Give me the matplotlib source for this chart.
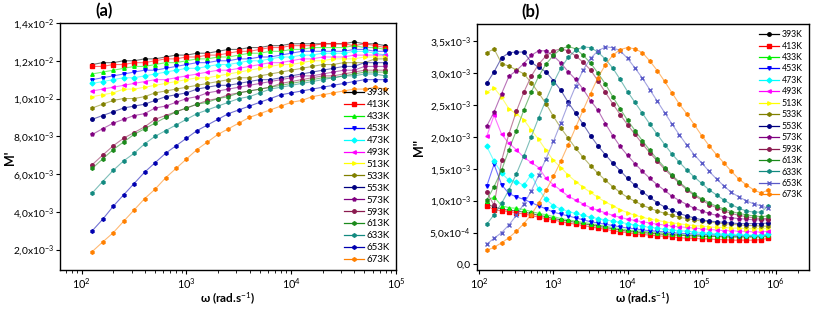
import numpy as np
import matplotlib
matplotlib.use("Agg")
import matplotlib.pyplot as plt

plt.rcParams["font.family"] = ["Lato", "DejaVu Sans"]
plt.rcParams["mathtext.fontset"] = "custom"
plt.rcParams["mathtext.rm"] = "Lato"
plt.rcParams["mathtext.bf"] = "Lato:bold"
plt.rcParams["mathtext.it"] = "Lato:italic"

# frequencies (rad/s), 10 points per decade
freq = [126, 158, 200, 251, 316, 398, 501, 631, 794, 1000,
        1259, 1585, 1995, 2512, 3162, 3981, 5012, 6310, 7943, 10000,
        12589, 15849, 19953, 25119, 31623, 39811, 50119, 63096, 79433, 100000,
        125893, 158489, 199526, 251189, 316228, 398107, 501187, 630957, 794328]

temps = ["393K", "413K", "433K", "453K", "473K", "493K", "513K", "533K",
         "553K", "573K", "593K", "613K", "633K", "653K", "673K"]

# M' (x1e-3), panel (a), 29 frequencies
a_393 = [11.8, 11.9, 11.9, 12.0, 12.0, 12.1, 12.1, 12.2, 12.3, 12.3, 12.4, 12.4, 12.5, 12.6, 12.6, 12.7, 12.7, 12.8, 12.8, 12.9, 12.9, 12.9, 12.9, 12.9, 12.9, 13.0, 12.9, 12.9, 12.8]
a_413 = [11.7, 11.7, 11.8, 11.8, 11.9, 11.9, 12.0, 12.1, 12.1, 12.2, 12.2, 12.3, 12.3, 12.4, 12.5, 12.5, 12.6, 12.7, 12.7, 12.8, 12.8, 12.8, 12.9, 12.9, 12.9, 12.8, 12.9, 12.8, 12.7]
a_433 = [11.3, 11.4, 11.5, 11.6, 11.7, 11.7, 11.8, 11.9, 11.9, 12.0, 12.1, 12.1, 12.2, 12.2, 12.3, 12.4, 12.4, 12.5, 12.5, 12.6, 12.6, 12.7, 12.7, 12.7, 12.7, 12.8, 12.7, 12.7, 12.6]
a_453 = [11.0, 11.1, 11.2, 11.3, 11.4, 11.5, 11.5, 11.6, 11.7, 11.8, 11.9, 11.9, 12.0, 12.0, 12.1, 12.1, 12.2, 12.2, 12.3, 12.4, 12.5, 12.5, 12.5, 12.5, 12.5, 12.6, 12.6, 12.5, 12.5]
a_473 = [10.8, 10.9, 11.0, 11.1, 11.1, 11.2, 11.3, 11.4, 11.5, 11.6, 11.6, 11.7, 11.8, 11.8, 11.9, 12.0, 12.0, 12.1, 12.2, 12.2, 12.3, 12.3, 12.4, 12.4, 12.4, 12.5, 12.5, 12.4, 12.3]
a_493 = [10.4, 10.5, 10.6, 10.7, 10.8, 10.9, 11.0, 11.0, 11.1, 11.2, 11.3, 11.4, 11.5, 11.5, 11.6, 11.7, 11.8, 11.9, 11.9, 12.0, 12.1, 12.1, 12.2, 12.2, 12.2, 12.3, 12.3, 12.3, 12.3]
a_513 = [10.1, 10.2, 10.3, 10.5, 10.5, 10.6, 10.7, 10.8, 10.9, 11.0, 11.1, 11.1, 11.2, 11.3, 11.4, 11.5, 11.6, 11.7, 11.8, 11.8, 11.9, 12.0, 12.0, 12.1, 12.1, 12.1, 12.2, 12.2, 12.2]
a_533 = [9.5, 9.7, 9.9, 10.0, 10.0, 10.1, 10.3, 10.4, 10.5, 10.6, 10.7, 10.8, 10.9, 11.0, 11.1, 11.1, 11.2, 11.3, 11.4, 11.5, 11.6, 11.7, 11.8, 11.8, 11.9, 11.9, 11.9, 12.1, 12.1]
a_553 = [8.9, 9.1, 9.3, 9.5, 9.6, 9.7, 9.9, 10.1, 10.2, 10.3, 10.5, 10.6, 10.7, 10.7, 10.8, 10.9, 11.0, 11.0, 11.1, 11.2, 11.3, 11.4, 11.5, 11.6, 11.7, 11.7, 11.9, 11.9, 11.9]
a_573 = [8.1, 8.4, 8.7, 8.9, 9.1, 9.2, 9.5, 9.6, 9.8, 10.0, 10.1, 10.3, 10.4, 10.5, 10.6, 10.7, 10.8, 10.9, 11.0, 11.1, 11.2, 11.2, 11.3, 11.4, 11.5, 11.5, 11.7, 11.7, 11.7]
a_593 = [6.5, 7.0, 7.5, 7.9, 8.2, 8.5, 8.9, 9.1, 9.3, 9.5, 9.7, 9.9, 10.0, 10.2, 10.3, 10.4, 10.5, 10.6, 10.8, 10.9, 11.0, 11.1, 11.2, 11.2, 11.3, 11.4, 11.5, 11.5, 11.5]
a_613 = [6.3, 6.8, 7.3, 7.7, 8.1, 8.4, 8.7, 9.0, 9.3, 9.5, 9.7, 9.8, 10.0, 10.1, 10.3, 10.4, 10.5, 10.6, 10.7, 10.8, 10.9, 11.0, 11.1, 11.1, 11.2, 11.3, 11.4, 11.4, 11.4]
a_633 = [5.0, 5.6, 6.2, 6.7, 7.1, 7.6, 8.0, 8.3, 8.6, 8.9, 9.2, 9.4, 9.6, 9.8, 10.0, 10.1, 10.3, 10.5, 10.6, 10.7, 10.8, 10.9, 11.0, 11.1, 11.2, 11.2, 11.3, 11.3, 11.2]
a_653 = [3.0, 3.6, 4.3, 4.9, 5.5, 6.1, 6.6, 7.1, 7.5, 7.9, 8.3, 8.6, 8.9, 9.2, 9.4, 9.6, 9.8, 10.0, 10.2, 10.3, 10.4, 10.5, 10.6, 10.7, 10.8, 10.9, 11.0, 11.0, 11.0]
a_673 = [1.9, 2.4, 2.9, 3.5, 4.1, 4.7, 5.2, 5.8, 6.3, 6.8, 7.3, 7.7, 8.1, 8.4, 8.7, 9.0, 9.2, 9.4, 9.6, 9.8, 9.9, 10.1, 10.2, 10.3, 10.4, 10.5, 10.5, 10.6, 10.5]

# M'' (x1e-3), panel (b), 39 frequencies
b_393 = [0.95, 0.90, 0.87, 0.85, 0.84, 0.82, 0.80, 0.77, 0.75, 0.72, 0.70, 0.68, 0.66, 0.64, 0.62, 0.60, 0.58, 0.56, 0.54, 0.52, 0.51, 0.50, 0.49, 0.48, 0.47, 0.46, 0.46, 0.45, 0.45, 0.44, 0.44, 0.44, 0.43, 0.43, 0.43, 0.43, 0.43, 0.43, 0.44]
b_413 = [0.92, 0.86, 0.84, 0.83, 0.81, 0.79, 0.77, 0.74, 0.72, 0.70, 0.67, 0.65, 0.63, 0.61, 0.59, 0.57, 0.55, 0.53, 0.51, 0.50, 0.48, 0.47, 0.46, 0.45, 0.44, 0.43, 0.42, 0.41, 0.41, 0.40, 0.40, 0.39, 0.39, 0.38, 0.38, 0.38, 0.38, 0.39, 0.41]
b_433 = [1.00, 1.06, 0.92, 0.89, 0.88, 0.86, 0.83, 0.80, 0.78, 0.75, 0.72, 0.70, 0.68, 0.66, 0.64, 0.62, 0.60, 0.58, 0.56, 0.54, 0.53, 0.52, 0.51, 0.50, 0.49, 0.48, 0.47, 0.46, 0.46, 0.45, 0.45, 0.44, 0.44, 0.44, 0.44, 0.44, 0.44, 0.44, 0.46]
b_453 = [1.23, 1.57, 1.25, 1.11, 1.06, 1.02, 0.97, 0.92, 0.87, 0.82, 0.79, 0.76, 0.73, 0.70, 0.67, 0.65, 0.63, 0.61, 0.59, 0.57, 0.56, 0.54, 0.53, 0.52, 0.51, 0.50, 0.49, 0.48, 0.48, 0.47, 0.47, 0.46, 0.46, 0.45, 0.45, 0.45, 0.45, 0.45, 0.47]
b_473 = [1.85, 1.62, 1.43, 1.32, 1.30, 1.24, 1.41, 1.18, 1.02, 0.92, 0.87, 0.83, 0.80, 0.77, 0.74, 0.72, 0.70, 0.68, 0.66, 0.64, 0.62, 0.60, 0.58, 0.57, 0.55, 0.54, 0.53, 0.52, 0.51, 0.50, 0.49, 0.48, 0.48, 0.47, 0.47, 0.46, 0.46, 0.46, 0.48]
b_493 = [2.01, 2.34, 2.04, 1.90, 1.80, 1.68, 1.60, 1.52, 1.35, 1.25, 1.16, 1.07, 1.01, 0.95, 0.89, 0.85, 0.81, 0.77, 0.74, 0.71, 0.69, 0.67, 0.65, 0.63, 0.62, 0.60, 0.59, 0.58, 0.57, 0.56, 0.55, 0.54, 0.53, 0.53, 0.52, 0.52, 0.51, 0.51, 0.52]
b_513 = [2.70, 2.77, 2.62, 2.44, 2.36, 2.27, 2.11, 1.96, 1.79, 1.63, 1.52, 1.40, 1.30, 1.21, 1.13, 1.05, 0.98, 0.92, 0.86, 0.81, 0.77, 0.74, 0.71, 0.69, 0.67, 0.65, 0.64, 0.62, 0.61, 0.60, 0.59, 0.58, 0.58, 0.57, 0.57, 0.56, 0.56, 0.56, 0.57]
b_533 = [3.32, 3.38, 3.15, 3.11, 3.05, 2.99, 2.85, 2.69, 2.52, 2.32, 2.14, 1.98, 1.82, 1.68, 1.55, 1.43, 1.32, 1.22, 1.13, 1.05, 0.99, 0.93, 0.88, 0.84, 0.80, 0.77, 0.74, 0.72, 0.70, 0.68, 0.67, 0.65, 0.64, 0.63, 0.62, 0.61, 0.61, 0.60, 0.60]
b_553 = [2.84, 3.02, 3.24, 3.32, 3.33, 3.33, 3.17, 3.09, 3.02, 2.88, 2.73, 2.54, 2.37, 2.20, 2.02, 1.86, 1.72, 1.59, 1.47, 1.35, 1.24, 1.14, 1.05, 0.97, 0.90, 0.85, 0.80, 0.76, 0.73, 0.70, 0.68, 0.67, 0.66, 0.65, 0.64, 0.64, 0.64, 0.64, 0.65]
b_573 = [2.17, 2.39, 2.68, 2.95, 3.04, 3.15, 3.28, 3.35, 3.35, 3.27, 3.16, 3.02, 2.90, 2.75, 2.57, 2.42, 2.21, 2.02, 1.85, 1.71, 1.58, 1.46, 1.35, 1.25, 1.16, 1.07, 1.00, 0.94, 0.88, 0.84, 0.80, 0.77, 0.75, 0.73, 0.72, 0.71, 0.70, 0.70, 0.70]
b_593 = [1.13, 0.93, 1.63, 2.05, 2.40, 2.70, 2.95, 3.14, 3.27, 3.35, 3.38, 3.35, 3.27, 3.17, 3.05, 2.88, 2.70, 2.52, 2.35, 2.19, 2.04, 1.89, 1.75, 1.62, 1.49, 1.38, 1.27, 1.17, 1.08, 1.01, 0.94, 0.89, 0.84, 0.80, 0.77, 0.75, 0.73, 0.72, 0.72]
b_613 = [1.01, 1.22, 1.48, 1.80, 2.10, 2.42, 2.70, 2.95, 3.14, 3.28, 3.38, 3.42, 3.38, 3.28, 3.16, 3.00, 2.83, 2.63, 2.44, 2.26, 2.10, 1.94, 1.79, 1.65, 1.52, 1.40, 1.29, 1.19, 1.10, 1.03, 0.97, 0.91, 0.87, 0.83, 0.80, 0.78, 0.76, 0.75, 0.76]
b_633 = [0.63, 0.78, 0.96, 1.17, 1.42, 1.70, 2.00, 2.30, 2.58, 2.85, 3.08, 3.25, 3.36, 3.41, 3.40, 3.33, 3.22, 3.08, 2.90, 2.71, 2.54, 2.37, 2.20, 2.04, 1.88, 1.73, 1.60, 1.48, 1.37, 1.27, 1.17, 1.09, 1.01, 0.94, 0.88, 0.84, 0.82, 0.82, 0.92]
b_653 = [0.32, 0.41, 0.50, 0.62, 0.77, 0.95, 1.15, 1.40, 1.66, 1.93, 2.22, 2.52, 2.80, 3.05, 3.23, 3.35, 3.41, 3.40, 3.35, 3.23, 3.08, 2.92, 2.74, 2.56, 2.38, 2.20, 2.03, 1.87, 1.72, 1.59, 1.46, 1.34, 1.23, 1.13, 1.06, 1.00, 0.95, 0.92, 0.88]
b_673 = [0.22, 0.27, 0.34, 0.42, 0.52, 0.64, 0.78, 0.96, 1.16, 1.38, 1.62, 1.88, 2.15, 2.42, 2.68, 2.93, 3.13, 3.28, 3.37, 3.40, 3.38, 3.32, 3.19, 3.04, 2.87, 2.69, 2.51, 2.36, 2.19, 2.02, 1.86, 1.72, 1.59, 1.46, 1.34, 1.25, 1.17, 1.12, 1.17]

a_series = [a_393, a_413, a_433, a_453, a_473, a_493, a_513, a_533,
            a_553, a_573, a_593, a_613, a_633, a_653, a_673]
b_series = [b_393, b_413, b_433, b_453, b_473, b_493, b_513, b_533,
            b_553, b_573, b_593, b_613, b_633, b_653, b_673]

colors = ["#000000", "#ff0000", "#00f000", "#0000ff", "#00ffff", "#ff00ff",
          "#ffff00", "#808000", "#000080", "#800080", "#8b1a4f", "#1b8a1b",
          "#138a80", "#0000b0", "#ff8000"]
markers_a = ["o", "s", "^", "v", "D", "<", ">", "h", "o", "p", "o", "h", "h", "h", "h"]
markers_b = ["o", "s", "^", "v", "D", "<", ">", "h", "o", "p", "o", "h", "h", "x", "h"]

fig = plt.figure(figsize=(8.13, 3.09), dpi=100)
ax1 = fig.add_axes([0.0738, 0.126, 0.4132, 0.7996])
ax2 = fig.add_axes([0.5867, 0.126, 0.4084, 0.7963])

# panel (a)
fa = freq[:29]
for vals, lab, c, m in zip(a_series, temps, colors, markers_a):
    ax1.plot(fa, vals, color=c, lw=0.8, alpha=0.55)
    ax1.plot(fa, vals, ls="none", marker=m, ms=2.5, color=c, mec=c)
    ax1.plot([], [], color=c, lw=0.9, marker=m, ms=2.5, label=lab)

ax1.set_xscale("log")
ax1.set_xlim(62, 1e5)
ax1.set_ylim(0.92, 14.0)
ax1.set_yticks([2, 4, 6, 8, 10, 12, 14])
ax1.set_yticklabels(["2,0x10$^{-3}$", "4,0x10$^{-3}$", "6,0x10$^{-3}$", "8,0x10$^{-3}$",
                     "1,0x10$^{-2}$", "1,2x10$^{-2}$", "1,4x10$^{-2}$"])
ax1.set_ylabel("M'", fontsize=9, fontweight="bold")
ax1.set_xlabel("ω (rad.s$^{-1}$)", fontsize=8.5, fontweight="bold")
ax1.yaxis.set_label_coords(-0.13, 0.455)
ax1.xaxis.set_label_coords(0.5, -0.085)
ax1.text(0.13, 1.015, "(a)", transform=ax1.transAxes, fontsize=12,
         fontweight="bold", ha="center", va="bottom")
ax1.legend(loc="lower right", fontsize=7, frameon=False, handlelength=2.0,
           labelspacing=0.3, handletextpad=0.3, borderaxespad=0.2)

# panel (b)
for vals, lab, c, m in zip(b_series, temps, colors, markers_b):
    if lab == "653K":
        c = "#5a5ac8"
    ax2.plot(freq, vals, color=c, lw=0.8, alpha=0.55)
    ax2.plot(freq, vals, ls="none", marker=m, ms=2.5, color=c, mec=c)
    ax2.plot([], [], color=c, lw=0.9, marker=m, ms=2.5, label=lab)

ax2.set_xscale("log")
ax2.set_xlim(93, 2.8e6)
ax2.set_ylim(-0.088, 3.77)
ax2.set_yticks([0, 0.5, 1.0, 1.5, 2.0, 2.5, 3.0, 3.5])
ax2.set_yticklabels(["0,0", "5,0x10$^{-4}$", "1,0x10$^{-3}$", "1,5x10$^{-3}$",
                     "2,0x10$^{-3}$", "2,5x10$^{-3}$", "3,0x10$^{-3}$", "3,5x10$^{-3}$"])
ax2.set_ylabel("M''", fontsize=9, fontweight="bold")
ax2.set_xlabel("ω (rad.s$^{-1}$)", fontsize=8.5, fontweight="bold")
ax2.yaxis.set_label_coords(-0.157, 0.5)
ax2.xaxis.set_label_coords(0.5, -0.085)
ax2.text(0.16, 1.015, "(b)", transform=ax2.transAxes, fontsize=12,
         fontweight="bold", ha="center", va="bottom")
ax2.legend(loc="upper right", fontsize=6.3, frameon=False, handlelength=2.3,
           labelspacing=0.28, handletextpad=0.3, borderaxespad=0.3)

for ax in (ax1, ax2):
    ax.tick_params(axis="x", which="major", labelsize=7.8, length=3, width=0.8, pad=1.5)
    ax.tick_params(axis="y", which="major", labelsize=7.4, length=3, width=0.8, pad=1.5)
    ax.tick_params(axis="x", which="minor", length=2, width=0.6)
    for s in ax.spines.values():
        s.set_linewidth(1.0)

fig.savefig("out.png", dpi=100)
